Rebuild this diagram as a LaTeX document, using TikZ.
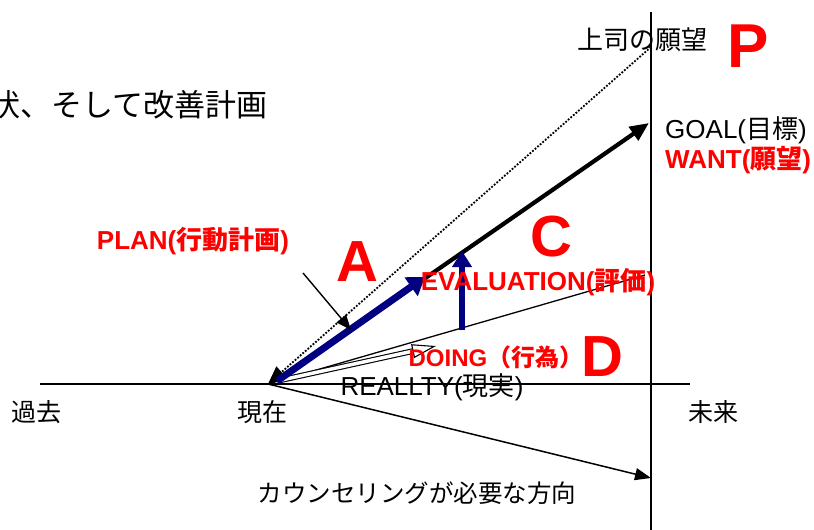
\documentclass[tikz,border=0pt]{standalone}
\usepackage{fontspec}
\setmainfont{Liberation Sans}
\newfontfamily\cjk{Noto Sans CJK JP}
\usetikzlibrary{arrows.meta}
\definecolor{navyblue}{RGB}{0,0,128}
\definecolor{pureRed}{RGB}{255,0,0}
\tikzset{
  lbl/.style={inner sep=0pt, font=\fontsize{26}{29}\selectfont},
  toplbl/.style={inner sep=0pt, font=\fontsize{31}{34}\selectfont},
  redlbl/.style={inner sep=0pt, text=pureRed, font=\fontsize{26}{29}\selectfont\bfseries},
  bigletter/.style={inner sep=0pt, text=pureRed, font=\fontsize{58}{62}\selectfont\bfseries},
  axisline/.style={line width=1.6pt},
  thinline/.style={line width=1.3pt},
  goalarrow/.style={line width=4.2pt, -{Triangle[length=19pt, width=16pt]}},
  bluearrow/.style={navyblue, line width=7pt, -{Triangle[length=17pt, width=22pt]}},
  blueup/.style={navyblue, line width=6pt, -{Triangle[length=16pt, width=19pt]}},
  dotline/.style={line width=1.8pt, dash pattern=on 1.8pt off 1.6pt, -{Triangle[length=18pt, width=15pt]}},
  pointer/.style={line width=1.4pt, -{Triangle[length=15pt, width=12pt]}},
  counsel/.style={line width=1.5pt, -{Triangle[length=16pt, width=12pt]}},
  hollow/.style={double, double distance=3.5pt, line width=1.1pt, -{Triangle[open, length=24pt, width=14pt, line width=1.1pt]}}
}
\begin{document}
\begin{tikzpicture}[x=1pt, y=-1pt]
\useasboundingbox (0,0) rectangle (814,530);
% key points
\coordinate (O) at (268,384);
\coordinate (Ob) at (277,381);
\coordinate (axL) at (40,384);
\coordinate (axR) at (690,384);
\coordinate (vT) at (651,12);
\coordinate (vB) at (651,530);
\coordinate (ptop) at (651,47);
\coordinate (goal) at (649,123);
\coordinate (planTip) at (425,277);
\coordinate (upBase) at (462,330);
\coordinate (upTip) at (462,251);
\coordinate (evalEnd) at (645,275);
\coordinate (doingTip) at (436,346);
\coordinate (ptrStart) at (303,273);
\coordinate (ptrTip) at (351,330);
\coordinate (counselTip) at (651,478);
% lines
\draw[axisline] (axL) -- (axR);
\draw[axisline] (vT) -- (vB);
\draw[dotline] (ptop) -- (O);
\draw[thinline] (O) -- (evalEnd);
\draw[counsel] (O) -- (counselTip);
\draw[hollow] (Ob) -- (doingTip);
\draw[goalarrow] (Ob) -- (goal);
\draw[bluearrow] (Ob) -- (planTip);
\draw[blueup] (upBase) -- (upTip);
\draw[pointer] (ptrStart) -- (ptrTip);
% texts
\node[toplbl, anchor=east] (title) at (268,105) {\cjk 状、そして改善計画};
\node[lbl] (boss) at (642,40) {\cjk 上司の願望};
\node[bigletter, font=\fontsize{62}{66}\selectfont\bfseries] (P) at (748,46) {P};
\node[lbl, anchor=west] (goaltxt) at (665,130) {GOAL({\cjk 目標})};
\node[redlbl, anchor=west] (want) at (665,160) {WANT({\cjk\bfseries 願望})};
\node[redlbl] (plan) at (193,241) {PLAN({\cjk\bfseries 行動計画})};
\node[bigletter] (A) at (357,262) {A};
\node[bigletter] (C) at (551,237) {C};
\node[redlbl] (eval) at (538,282) {EVALUATION({\cjk\bfseries 評価})};
\node[redlbl, font=\fontsize{24}{27}\selectfont\bfseries] (doing) at (496,357) {DOING{\cjk\bfseries （行為）}};
\node[bigletter] (D) at (602,357) {D};
\node[lbl] (real) at (432,387) {REALLTY({\cjk 現実})};
\node[lbl, font=\fontsize{25}{28}\selectfont] (past) at (37,412) {\cjk 過去};
\node[lbl, font=\fontsize{25}{28}\selectfont] (now) at (262,412) {\cjk 現在};
\node[lbl, font=\fontsize{25}{28}\selectfont] (future) at (713,412) {\cjk 未来};
\node[lbl, font=\fontsize{24.5}{28}\selectfont] (dir) at (417,493) {\cjk カウンセリングが必要な方向};
\end{tikzpicture}
\end{document}
